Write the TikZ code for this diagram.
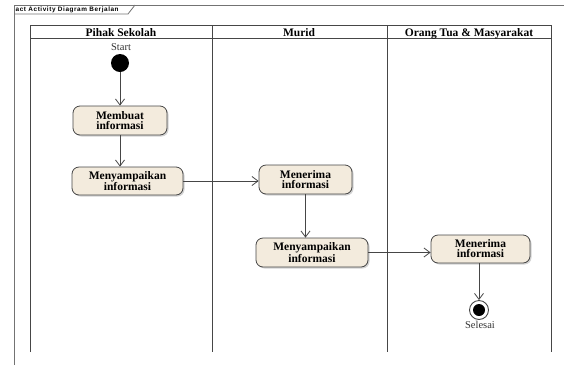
\documentclass[tikz,border=0pt]{standalone}
\usepackage{fontspec}
\setmainfont{Liberation Serif}
\newfontfamily\tabfont[LetterSpace=9]{Liberation Sans}
\usetikzlibrary{arrows.meta,shadows}
\definecolor{actfill}{RGB}{243,235,221}
\definecolor{linegray}{RGB}{70,70,70}
\begin{document}
\begin{tikzpicture}[x=1pt,y=-1pt,
  frameline/.style={draw=black!55, line width=0.8pt},
  laneline/.style={draw=linegray, line width=0.9pt},
  lanetitle/.style={anchor=base, inner sep=0pt, font=\fontsize{11.5}{12}\selectfont\bfseries},
  action/.style={draw=linegray, line width=0.8pt, rounded corners=7pt, fill=actfill,
    drop shadow={shadow xshift=1.5pt, shadow yshift=-1.5pt, opacity=0.35},
    align=center, font=\fontsize{11.5}{10}\selectfont\bfseries, inner sep=0pt},
  flow/.style={draw=linegray, line width=0.8pt, -{Straight Barb[length=6pt,width=9pt]}},
  small/.style={inner sep=0pt, font=\fontsize{10.5}{12}\selectfont, text=black!80}
]
\useasboundingbox (0,0) rectangle (564,365);
% frame
\draw[frameline] (14,365) -- (14,5) -- (564,5);
\draw[frameline] (14,14) -- (128,14) -- (135,5);
\node[anchor=west, inner sep=0pt, font=\tabfont\fontsize{6.4}{7}\selectfont\bfseries] (tab) at (15.5,9.5) {act Activity Diagram Berjalan};
% swimlanes
\draw[laneline] (30,352) -- (30,25) -- (551,25) -- (551,352);
\draw[laneline] (30,38) -- (551,38);
\draw[laneline] (212,25) -- (212,352);
\draw[laneline] (387,25) -- (387,352);
\node[lanetitle] (l1) at (121,36) {Pihak Sekolah};
\node[lanetitle] (l2) at (299,36) {Murid};
\node[lanetitle] (l3) at (469,36) {Orang Tua \& Masyarakat};
% start
\node[small] (startlbl) at (121,47) {Start};
\node[circle, fill=black, minimum size=18pt, inner sep=0pt] (start) at (120,63) {};
% actions
\node[action, minimum width=94pt, minimum height=29pt] (membuat) at (120,120.5) {Membuat\\informasi};
\node[action, minimum width=111pt, minimum height=28pt] (kirim1) at (127.5,181) {Menyampaikan\\informasi};
\node[action, minimum width=93pt, minimum height=29pt] (terima1) at (305.5,179.5) {Menerima\\informasi};
\node[action, minimum width=112pt, minimum height=29pt] (kirim2) at (312,252.5) {Menyampaikan\\informasi};
\node[action, minimum width=99pt, minimum height=28pt] (terima2) at (480.5,249) {Menerima\\informasi};
% end
\node[circle, draw=linegray, line width=0.9pt, fill=white, minimum size=19pt, inner sep=0pt] (end) at (479,310) {};
\fill (end) circle (6pt);
\node[small] (endlbl) at (480,325) {Selesai};
% flows
\draw[flow] (start) -- (membuat);
\draw[flow] (membuat.south) -- (membuat.south |- kirim1.north);
\draw[flow] (kirim1.east) -- (terima1.west |- kirim1.east);
\draw[flow] (terima1.south) -- (terima1.south |- kirim2.north);
\draw[flow] (kirim2.east) -- (terima2.west |- kirim2.east);
\draw[flow] (terima2.south -| end) -- (end);
\end{tikzpicture}
\end{document}
